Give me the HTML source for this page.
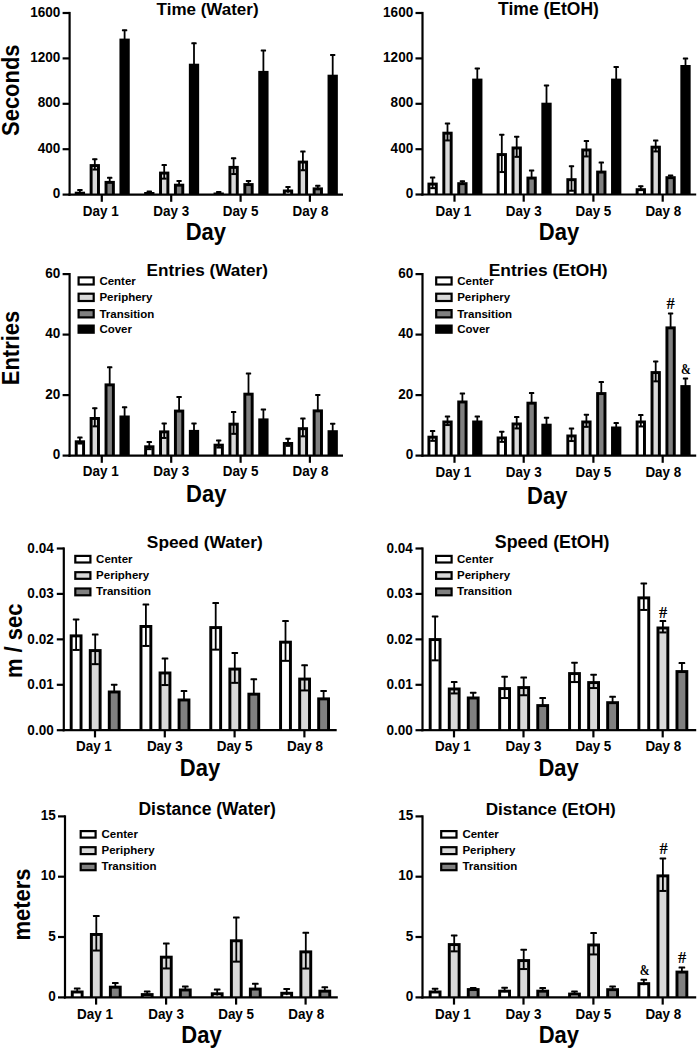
<!DOCTYPE html>
<html><head><meta charset="utf-8"><title>Figure</title>
<style>
html,body{margin:0;padding:0;background:#fff;}
body{width:699px;height:1050px;overflow:hidden;}
svg{display:block;font-family:"Liberation Sans", sans-serif;}
</style></head>
<body>
<svg width="699" height="1050" viewBox="0 0 699 1050">
<rect width="699" height="1050" fill="#fff"/>
<line x1="69.6" y1="11.9" x2="69.6" y2="195.7" stroke="#000" stroke-width="2.2"/>
<line x1="62.6" y1="13" x2="69.6" y2="13" stroke="#000" stroke-width="2.2"/>
<text x="0" y="0" font-size="14.4" text-anchor="end" font-weight="bold" transform="translate(60.3 16.6) scale(0.94 1)">1600</text>
<line x1="62.6" y1="58.4" x2="69.6" y2="58.4" stroke="#000" stroke-width="2.2"/>
<text x="0" y="0" font-size="14.4" text-anchor="end" font-weight="bold" transform="translate(60.3 62) scale(0.94 1)">1200</text>
<line x1="62.6" y1="103.8" x2="69.6" y2="103.8" stroke="#000" stroke-width="2.2"/>
<text x="0" y="0" font-size="14.4" text-anchor="end" font-weight="bold" transform="translate(60.3 107.4) scale(0.94 1)">800</text>
<line x1="62.6" y1="149.2" x2="69.6" y2="149.2" stroke="#000" stroke-width="2.2"/>
<text x="0" y="0" font-size="14.4" text-anchor="end" font-weight="bold" transform="translate(60.3 152.8) scale(0.94 1)">400</text>
<line x1="62.6" y1="194.6" x2="69.6" y2="194.6" stroke="#000" stroke-width="2.2"/>
<text x="0" y="0" font-size="14.4" text-anchor="end" font-weight="bold" transform="translate(60.3 198.2) scale(0.94 1)">0</text>
<line x1="68.5" y1="194.6" x2="343" y2="194.6" stroke="#000" stroke-width="2.2"/>
<line x1="101.8" y1="194.6" x2="101.8" y2="201.8" stroke="#000" stroke-width="2.2"/>
<text x="0" y="0" font-size="14" text-anchor="middle" font-weight="bold" transform="translate(100.7 215.8) scale(0.96 1)">Day 1</text>
<line x1="171.2" y1="194.6" x2="171.2" y2="201.8" stroke="#000" stroke-width="2.2"/>
<text x="0" y="0" font-size="14" text-anchor="middle" font-weight="bold" transform="translate(171.2 215.8) scale(0.96 1)">Day 3</text>
<line x1="240.6" y1="194.6" x2="240.6" y2="201.8" stroke="#000" stroke-width="2.2"/>
<text x="0" y="0" font-size="14" text-anchor="middle" font-weight="bold" transform="translate(240.6 215.8) scale(0.96 1)">Day 5</text>
<line x1="309.9" y1="194.6" x2="309.9" y2="201.8" stroke="#000" stroke-width="2.2"/>
<text x="0" y="0" font-size="14" text-anchor="middle" font-weight="bold" transform="translate(310.5 215.8) scale(0.96 1)">Day 8</text>
<rect x="74.75" y="191.7" width="10.3" height="2.9" fill="#000"/>
<line x1="79.9" y1="189.5" x2="79.9" y2="193.95" stroke="#000" stroke-width="1.8"/>
<rect x="77.22" y="189" width="5.36" height="2" fill="#000" rx="0.6"/>
<rect x="89.65" y="164.1" width="10.3" height="30.5" fill="#000"/>
<rect x="92.6" y="167.05" width="4.4" height="26.45" fill="#d9d9d9"/>
<line x1="94.8" y1="158.7" x2="94.8" y2="169.55" stroke="#000" stroke-width="1.8"/>
<rect x="92.12" y="158.2" width="5.36" height="2" fill="#000" rx="0.6"/>
<rect x="92.4" y="168.55" width="4.8" height="2" fill="#000"/>
<rect x="104.55" y="180.9" width="10.3" height="13.7" fill="#000"/>
<rect x="107.5" y="183.85" width="4.4" height="9.65" fill="#808080"/>
<line x1="109.7" y1="177.3" x2="109.7" y2="182.38" stroke="#000" stroke-width="1.8"/>
<rect x="107.02" y="176.8" width="5.36" height="2" fill="#000" rx="0.6"/>
<rect x="119.45" y="38.6" width="10.3" height="156" fill="#000"/>
<line x1="124.6" y1="29.8" x2="124.6" y2="40.08" stroke="#000" stroke-width="1.8"/>
<rect x="121.92" y="29.3" width="5.36" height="2" fill="#000" rx="0.6"/>
<rect x="144.15" y="192" width="10.3" height="2.6" fill="#000"/>
<line x1="149.3" y1="191" x2="149.3" y2="193.47" stroke="#000" stroke-width="1.8"/>
<rect x="146.62" y="190.5" width="5.36" height="2" fill="#000" rx="0.6"/>
<rect x="159.05" y="171.6" width="10.3" height="23" fill="#000"/>
<rect x="162" y="174.55" width="4.4" height="18.95" fill="#d9d9d9"/>
<line x1="164.2" y1="164.6" x2="164.2" y2="178.65" stroke="#000" stroke-width="1.8"/>
<rect x="161.52" y="164.1" width="5.36" height="2" fill="#000" rx="0.6"/>
<rect x="161.8" y="177.65" width="4.8" height="2" fill="#000"/>
<rect x="173.95" y="183.7" width="10.3" height="10.9" fill="#000"/>
<rect x="176.9" y="186.65" width="4.4" height="6.85" fill="#808080"/>
<line x1="179.1" y1="180.4" x2="179.1" y2="185.17" stroke="#000" stroke-width="1.8"/>
<rect x="176.42" y="179.9" width="5.36" height="2" fill="#000" rx="0.6"/>
<rect x="188.85" y="63.7" width="10.3" height="130.9" fill="#000"/>
<line x1="194" y1="42.8" x2="194" y2="65.17" stroke="#000" stroke-width="1.8"/>
<rect x="191.32" y="42.3" width="5.36" height="2" fill="#000" rx="0.6"/>
<rect x="213.55" y="192.5" width="10.3" height="2.1" fill="#000"/>
<line x1="218.7" y1="191.5" x2="218.7" y2="193.97" stroke="#000" stroke-width="1.8"/>
<rect x="216.02" y="191" width="5.36" height="2" fill="#000" rx="0.6"/>
<rect x="228.45" y="165.9" width="10.3" height="28.7" fill="#000"/>
<rect x="231.4" y="168.85" width="4.4" height="24.65" fill="#d9d9d9"/>
<line x1="233.6" y1="157.8" x2="233.6" y2="174.05" stroke="#000" stroke-width="1.8"/>
<rect x="230.92" y="157.3" width="5.36" height="2" fill="#000" rx="0.6"/>
<rect x="231.2" y="173.05" width="4.8" height="2" fill="#000"/>
<rect x="243.35" y="183.1" width="10.3" height="11.5" fill="#000"/>
<rect x="246.3" y="186.05" width="4.4" height="7.45" fill="#808080"/>
<line x1="248.5" y1="180.4" x2="248.5" y2="184.57" stroke="#000" stroke-width="1.8"/>
<rect x="245.82" y="179.9" width="5.36" height="2" fill="#000" rx="0.6"/>
<rect x="258.25" y="70.9" width="10.3" height="123.7" fill="#000"/>
<line x1="263.4" y1="50.1" x2="263.4" y2="72.38" stroke="#000" stroke-width="1.8"/>
<rect x="260.72" y="49.6" width="5.36" height="2" fill="#000" rx="0.6"/>
<rect x="282.85" y="189.5" width="10.3" height="5.1" fill="#000"/>
<rect x="285.8" y="192.45" width="4.4" height="1.05" fill="#ffffff"/>
<line x1="288" y1="186.4" x2="288" y2="192.65" stroke="#000" stroke-width="1.8"/>
<rect x="285.32" y="185.9" width="5.36" height="2" fill="#000" rx="0.6"/>
<rect x="297.75" y="160.6" width="10.3" height="34" fill="#000"/>
<rect x="300.7" y="163.55" width="4.4" height="29.95" fill="#d9d9d9"/>
<line x1="302.9" y1="151" x2="302.9" y2="170.25" stroke="#000" stroke-width="1.8"/>
<rect x="300.22" y="150.5" width="5.36" height="2" fill="#000" rx="0.6"/>
<rect x="300.5" y="169.25" width="4.8" height="2" fill="#000"/>
<rect x="312.65" y="187.4" width="10.3" height="7.2" fill="#000"/>
<rect x="315.6" y="190.35" width="4.4" height="3.15" fill="#808080"/>
<line x1="317.8" y1="185.3" x2="317.8" y2="188.88" stroke="#000" stroke-width="1.8"/>
<rect x="315.12" y="184.8" width="5.36" height="2" fill="#000" rx="0.6"/>
<rect x="327.55" y="74.7" width="10.3" height="119.9" fill="#000"/>
<line x1="332.7" y1="54.4" x2="332.7" y2="76.17" stroke="#000" stroke-width="1.8"/>
<rect x="330.02" y="53.9" width="5.36" height="2" fill="#000" rx="0.6"/>
<text x="207.6" y="15.2" font-size="17" text-anchor="middle" font-weight="bold">Time (Water)</text>
<text x="0" y="0" font-size="23.8" font-weight="bold" text-anchor="middle" transform="translate(205.9 240.3) scale(0.925 1)">Day</text>
<text x="0" y="0" font-size="23.5" font-weight="bold" text-anchor="middle" transform="translate(19.2 90.2) rotate(-90) scale(0.935 1)">Seconds</text>
<line x1="422.5" y1="11.9" x2="422.5" y2="195.6" stroke="#000" stroke-width="2.2"/>
<line x1="415.5" y1="13" x2="422.5" y2="13" stroke="#000" stroke-width="2.2"/>
<text x="0" y="0" font-size="14.4" text-anchor="end" font-weight="bold" transform="translate(413.2 16.6) scale(0.94 1)">1600</text>
<line x1="415.5" y1="58.4" x2="422.5" y2="58.4" stroke="#000" stroke-width="2.2"/>
<text x="0" y="0" font-size="14.4" text-anchor="end" font-weight="bold" transform="translate(413.2 62) scale(0.94 1)">1200</text>
<line x1="415.5" y1="103.8" x2="422.5" y2="103.8" stroke="#000" stroke-width="2.2"/>
<text x="0" y="0" font-size="14.4" text-anchor="end" font-weight="bold" transform="translate(413.2 107.4) scale(0.94 1)">800</text>
<line x1="415.5" y1="149.2" x2="422.5" y2="149.2" stroke="#000" stroke-width="2.2"/>
<text x="0" y="0" font-size="14.4" text-anchor="end" font-weight="bold" transform="translate(413.2 152.8) scale(0.94 1)">400</text>
<line x1="415.5" y1="194.5" x2="422.5" y2="194.5" stroke="#000" stroke-width="2.2"/>
<text x="0" y="0" font-size="14.4" text-anchor="end" font-weight="bold" transform="translate(413.2 198.1) scale(0.94 1)">0</text>
<line x1="421.4" y1="194.5" x2="696.2" y2="194.5" stroke="#000" stroke-width="2.2"/>
<line x1="454.5" y1="194.5" x2="454.5" y2="201.7" stroke="#000" stroke-width="2.2"/>
<text x="0" y="0" font-size="14" text-anchor="middle" font-weight="bold" transform="translate(453.4 215.8) scale(0.96 1)">Day 1</text>
<line x1="523.7" y1="194.5" x2="523.7" y2="201.7" stroke="#000" stroke-width="2.2"/>
<text x="0" y="0" font-size="14" text-anchor="middle" font-weight="bold" transform="translate(523.7 215.8) scale(0.96 1)">Day 3</text>
<line x1="593.4" y1="194.5" x2="593.4" y2="201.7" stroke="#000" stroke-width="2.2"/>
<text x="0" y="0" font-size="14" text-anchor="middle" font-weight="bold" transform="translate(593.4 215.8) scale(0.96 1)">Day 5</text>
<line x1="662.7" y1="194.5" x2="662.7" y2="201.7" stroke="#000" stroke-width="2.2"/>
<text x="0" y="0" font-size="14" text-anchor="middle" font-weight="bold" transform="translate(663.3 215.8) scale(0.96 1)">Day 8</text>
<rect x="427.45" y="182.6" width="10.3" height="11.9" fill="#000"/>
<rect x="430.4" y="185.55" width="4.4" height="7.85" fill="#ffffff"/>
<line x1="432.6" y1="177.1" x2="432.6" y2="188.15" stroke="#000" stroke-width="1.8"/>
<rect x="429.92" y="176.6" width="5.36" height="2" fill="#000" rx="0.6"/>
<rect x="430.2" y="187.15" width="4.8" height="2" fill="#000"/>
<rect x="442.35" y="131.7" width="10.3" height="62.8" fill="#000"/>
<rect x="445.3" y="134.65" width="4.4" height="58.75" fill="#d9d9d9"/>
<line x1="447.5" y1="123" x2="447.5" y2="140.45" stroke="#000" stroke-width="1.8"/>
<rect x="444.82" y="122.5" width="5.36" height="2" fill="#000" rx="0.6"/>
<rect x="445.1" y="139.45" width="4.8" height="2" fill="#000"/>
<rect x="457.25" y="182.2" width="10.3" height="12.3" fill="#000"/>
<rect x="460.2" y="185.15" width="4.4" height="8.25" fill="#808080"/>
<line x1="462.4" y1="180.7" x2="462.4" y2="183.67" stroke="#000" stroke-width="1.8"/>
<rect x="459.72" y="180.2" width="5.36" height="2" fill="#000" rx="0.6"/>
<rect x="472.15" y="78.6" width="10.3" height="115.9" fill="#000"/>
<line x1="477.3" y1="67.9" x2="477.3" y2="80.07" stroke="#000" stroke-width="1.8"/>
<rect x="474.62" y="67.4" width="5.36" height="2" fill="#000" rx="0.6"/>
<rect x="496.65" y="153.1" width="10.3" height="41.4" fill="#000"/>
<rect x="499.6" y="156.05" width="4.4" height="37.35" fill="#ffffff"/>
<line x1="501.8" y1="134.2" x2="501.8" y2="172.05" stroke="#000" stroke-width="1.8"/>
<rect x="499.12" y="133.7" width="5.36" height="2" fill="#000" rx="0.6"/>
<rect x="499.4" y="171.05" width="4.8" height="2" fill="#000"/>
<rect x="511.55" y="146.5" width="10.3" height="48" fill="#000"/>
<rect x="514.5" y="149.45" width="4.4" height="43.95" fill="#d9d9d9"/>
<line x1="516.7" y1="136.2" x2="516.7" y2="156.85" stroke="#000" stroke-width="1.8"/>
<rect x="514.02" y="135.7" width="5.36" height="2" fill="#000" rx="0.6"/>
<rect x="514.3" y="155.85" width="4.8" height="2" fill="#000"/>
<rect x="526.45" y="176.6" width="10.3" height="17.9" fill="#000"/>
<rect x="529.4" y="179.55" width="4.4" height="13.85" fill="#808080"/>
<line x1="531.6" y1="170.1" x2="531.6" y2="178.07" stroke="#000" stroke-width="1.8"/>
<rect x="528.92" y="169.6" width="5.36" height="2" fill="#000" rx="0.6"/>
<rect x="541.35" y="102.7" width="10.3" height="91.8" fill="#000"/>
<line x1="546.5" y1="84.9" x2="546.5" y2="104.17" stroke="#000" stroke-width="1.8"/>
<rect x="543.82" y="84.4" width="5.36" height="2" fill="#000" rx="0.6"/>
<rect x="566.35" y="178.2" width="10.3" height="16.3" fill="#000"/>
<rect x="569.3" y="181.15" width="4.4" height="12.25" fill="#ffffff"/>
<line x1="571.5" y1="165.7" x2="571.5" y2="190.75" stroke="#000" stroke-width="1.8"/>
<rect x="568.82" y="165.2" width="5.36" height="2" fill="#000" rx="0.6"/>
<rect x="569.1" y="189.75" width="4.8" height="2" fill="#000"/>
<rect x="581.25" y="148.5" width="10.3" height="46" fill="#000"/>
<rect x="584.2" y="151.45" width="4.4" height="41.95" fill="#d9d9d9"/>
<line x1="586.4" y1="140.6" x2="586.4" y2="156.45" stroke="#000" stroke-width="1.8"/>
<rect x="583.72" y="140.1" width="5.36" height="2" fill="#000" rx="0.6"/>
<rect x="584" y="155.45" width="4.8" height="2" fill="#000"/>
<rect x="596.15" y="170.6" width="10.3" height="23.9" fill="#000"/>
<rect x="599.1" y="173.55" width="4.4" height="19.85" fill="#808080"/>
<line x1="601.3" y1="162.1" x2="601.3" y2="172.07" stroke="#000" stroke-width="1.8"/>
<rect x="598.62" y="161.6" width="5.36" height="2" fill="#000" rx="0.6"/>
<rect x="611.05" y="78.6" width="10.3" height="115.9" fill="#000"/>
<line x1="616.2" y1="66.5" x2="616.2" y2="80.07" stroke="#000" stroke-width="1.8"/>
<rect x="613.52" y="66" width="5.36" height="2" fill="#000" rx="0.6"/>
<rect x="635.65" y="188.2" width="10.3" height="6.3" fill="#000"/>
<rect x="638.6" y="191.15" width="4.4" height="2.25" fill="#ffffff"/>
<line x1="640.8" y1="185.7" x2="640.8" y2="190.75" stroke="#000" stroke-width="1.8"/>
<rect x="638.12" y="185.2" width="5.36" height="2" fill="#000" rx="0.6"/>
<rect x="650.55" y="145.7" width="10.3" height="48.8" fill="#000"/>
<rect x="653.5" y="148.65" width="4.4" height="44.75" fill="#d9d9d9"/>
<line x1="655.7" y1="140" x2="655.7" y2="151.45" stroke="#000" stroke-width="1.8"/>
<rect x="653.02" y="139.5" width="5.36" height="2" fill="#000" rx="0.6"/>
<rect x="653.3" y="150.45" width="4.8" height="2" fill="#000"/>
<rect x="665.45" y="176.2" width="10.3" height="18.3" fill="#000"/>
<rect x="668.4" y="179.15" width="4.4" height="14.25" fill="#808080"/>
<line x1="670.6" y1="175.1" x2="670.6" y2="177.67" stroke="#000" stroke-width="1.8"/>
<rect x="667.92" y="174.6" width="5.36" height="2" fill="#000" rx="0.6"/>
<rect x="680.35" y="65" width="10.3" height="129.5" fill="#000"/>
<line x1="685.5" y1="58.1" x2="685.5" y2="66.47" stroke="#000" stroke-width="1.8"/>
<rect x="682.82" y="57.6" width="5.36" height="2" fill="#000" rx="0.6"/>
<text x="548.5" y="15.2" font-size="17.5" text-anchor="middle" font-weight="bold">Time (EtOH)</text>
<text x="0" y="0" font-size="23.8" font-weight="bold" text-anchor="middle" transform="translate(559 240.3) scale(0.925 1)">Day</text>
<line x1="69.6" y1="273" x2="69.6" y2="456.7" stroke="#000" stroke-width="2.2"/>
<line x1="62.6" y1="274.1" x2="69.6" y2="274.1" stroke="#000" stroke-width="2.2"/>
<text x="0" y="0" font-size="14.4" text-anchor="end" font-weight="bold" transform="translate(60.3 277.7) scale(0.94 1)">60</text>
<line x1="62.6" y1="334.6" x2="69.6" y2="334.6" stroke="#000" stroke-width="2.2"/>
<text x="0" y="0" font-size="14.4" text-anchor="end" font-weight="bold" transform="translate(60.3 338.2) scale(0.94 1)">40</text>
<line x1="62.6" y1="395.1" x2="69.6" y2="395.1" stroke="#000" stroke-width="2.2"/>
<text x="0" y="0" font-size="14.4" text-anchor="end" font-weight="bold" transform="translate(60.3 398.7) scale(0.94 1)">20</text>
<line x1="62.6" y1="455.6" x2="69.6" y2="455.6" stroke="#000" stroke-width="2.2"/>
<text x="0" y="0" font-size="14.4" text-anchor="end" font-weight="bold" transform="translate(60.3 459.2) scale(0.94 1)">0</text>
<line x1="68.5" y1="455.6" x2="343" y2="455.6" stroke="#000" stroke-width="2.2"/>
<line x1="101.8" y1="455.6" x2="101.8" y2="462.8" stroke="#000" stroke-width="2.2"/>
<text x="0" y="0" font-size="14" text-anchor="middle" font-weight="bold" transform="translate(100.7 476.1) scale(0.96 1)">Day 1</text>
<line x1="171.2" y1="455.6" x2="171.2" y2="462.8" stroke="#000" stroke-width="2.2"/>
<text x="0" y="0" font-size="14" text-anchor="middle" font-weight="bold" transform="translate(171.2 476.1) scale(0.96 1)">Day 3</text>
<line x1="240.6" y1="455.6" x2="240.6" y2="462.8" stroke="#000" stroke-width="2.2"/>
<text x="0" y="0" font-size="14" text-anchor="middle" font-weight="bold" transform="translate(240.6 476.1) scale(0.96 1)">Day 5</text>
<line x1="309.9" y1="455.6" x2="309.9" y2="462.8" stroke="#000" stroke-width="2.2"/>
<text x="0" y="0" font-size="14" text-anchor="middle" font-weight="bold" transform="translate(310.5 476.1) scale(0.96 1)">Day 8</text>
<rect x="74.75" y="440.3" width="10.3" height="15.3" fill="#000"/>
<rect x="77.7" y="443.25" width="4.4" height="11.25" fill="#ffffff"/>
<line x1="79.9" y1="437.1" x2="79.9" y2="443.55" stroke="#000" stroke-width="1.8"/>
<rect x="77.22" y="436.6" width="5.36" height="2" fill="#000" rx="0.6"/>
<rect x="77.5" y="442.55" width="4.8" height="2" fill="#000"/>
<rect x="89.65" y="417" width="10.3" height="38.6" fill="#000"/>
<rect x="92.6" y="419.95" width="4.4" height="34.55" fill="#d9d9d9"/>
<line x1="94.8" y1="407.7" x2="94.8" y2="426.35" stroke="#000" stroke-width="1.8"/>
<rect x="92.12" y="407.2" width="5.36" height="2" fill="#000" rx="0.6"/>
<rect x="92.4" y="425.35" width="4.8" height="2" fill="#000"/>
<rect x="104.55" y="383.4" width="10.3" height="72.2" fill="#000"/>
<rect x="107.5" y="386.35" width="4.4" height="68.15" fill="#808080"/>
<line x1="109.7" y1="366.8" x2="109.7" y2="384.88" stroke="#000" stroke-width="1.8"/>
<rect x="107.02" y="366.3" width="5.36" height="2" fill="#000" rx="0.6"/>
<rect x="119.45" y="415.5" width="10.3" height="40.1" fill="#000"/>
<line x1="124.6" y1="406.8" x2="124.6" y2="416.98" stroke="#000" stroke-width="1.8"/>
<rect x="121.92" y="406.3" width="5.36" height="2" fill="#000" rx="0.6"/>
<rect x="144.15" y="445.3" width="10.3" height="10.3" fill="#000"/>
<rect x="147.1" y="448.25" width="4.4" height="6.25" fill="#ffffff"/>
<line x1="149.3" y1="441.5" x2="149.3" y2="449.15" stroke="#000" stroke-width="1.8"/>
<rect x="146.62" y="441" width="5.36" height="2" fill="#000" rx="0.6"/>
<rect x="146.9" y="448.15" width="4.8" height="2" fill="#000"/>
<rect x="159.05" y="430.4" width="10.3" height="25.2" fill="#000"/>
<rect x="162" y="433.35" width="4.4" height="21.15" fill="#d9d9d9"/>
<line x1="164.2" y1="422.9" x2="164.2" y2="437.95" stroke="#000" stroke-width="1.8"/>
<rect x="161.52" y="422.4" width="5.36" height="2" fill="#000" rx="0.6"/>
<rect x="161.8" y="436.95" width="4.8" height="2" fill="#000"/>
<rect x="173.95" y="409.6" width="10.3" height="46" fill="#000"/>
<rect x="176.9" y="412.55" width="4.4" height="41.95" fill="#808080"/>
<line x1="179.1" y1="396.5" x2="179.1" y2="411.08" stroke="#000" stroke-width="1.8"/>
<rect x="176.42" y="396" width="5.36" height="2" fill="#000" rx="0.6"/>
<rect x="188.85" y="429.9" width="10.3" height="25.7" fill="#000"/>
<line x1="194" y1="422.9" x2="194" y2="431.38" stroke="#000" stroke-width="1.8"/>
<rect x="191.32" y="422.4" width="5.36" height="2" fill="#000" rx="0.6"/>
<rect x="213.55" y="443.7" width="10.3" height="11.9" fill="#000"/>
<rect x="216.5" y="446.65" width="4.4" height="7.85" fill="#ffffff"/>
<line x1="218.7" y1="439.9" x2="218.7" y2="447.55" stroke="#000" stroke-width="1.8"/>
<rect x="216.02" y="439.4" width="5.36" height="2" fill="#000" rx="0.6"/>
<rect x="216.3" y="446.55" width="4.8" height="2" fill="#000"/>
<rect x="228.45" y="422.7" width="10.3" height="32.9" fill="#000"/>
<rect x="231.4" y="425.65" width="4.4" height="28.85" fill="#d9d9d9"/>
<line x1="233.6" y1="411.6" x2="233.6" y2="433.85" stroke="#000" stroke-width="1.8"/>
<rect x="230.92" y="411.1" width="5.36" height="2" fill="#000" rx="0.6"/>
<rect x="231.2" y="432.85" width="4.8" height="2" fill="#000"/>
<rect x="243.35" y="392.7" width="10.3" height="62.9" fill="#000"/>
<rect x="246.3" y="395.65" width="4.4" height="58.85" fill="#808080"/>
<line x1="248.5" y1="373" x2="248.5" y2="394.18" stroke="#000" stroke-width="1.8"/>
<rect x="245.82" y="372.5" width="5.36" height="2" fill="#000" rx="0.6"/>
<rect x="258.25" y="418.4" width="10.3" height="37.2" fill="#000"/>
<line x1="263.4" y1="409" x2="263.4" y2="419.88" stroke="#000" stroke-width="1.8"/>
<rect x="260.72" y="408.5" width="5.36" height="2" fill="#000" rx="0.6"/>
<rect x="282.85" y="442" width="10.3" height="13.6" fill="#000"/>
<rect x="285.8" y="444.95" width="4.4" height="9.55" fill="#ffffff"/>
<line x1="288" y1="438.2" x2="288" y2="445.85" stroke="#000" stroke-width="1.8"/>
<rect x="285.32" y="437.7" width="5.36" height="2" fill="#000" rx="0.6"/>
<rect x="285.6" y="444.85" width="4.8" height="2" fill="#000"/>
<rect x="297.75" y="427.2" width="10.3" height="28.4" fill="#000"/>
<rect x="300.7" y="430.15" width="4.4" height="24.35" fill="#d9d9d9"/>
<line x1="302.9" y1="418.1" x2="302.9" y2="436.35" stroke="#000" stroke-width="1.8"/>
<rect x="300.22" y="417.6" width="5.36" height="2" fill="#000" rx="0.6"/>
<rect x="300.5" y="435.35" width="4.8" height="2" fill="#000"/>
<rect x="312.65" y="409.4" width="10.3" height="46.2" fill="#000"/>
<rect x="315.6" y="412.35" width="4.4" height="42.15" fill="#808080"/>
<line x1="317.8" y1="394.4" x2="317.8" y2="410.88" stroke="#000" stroke-width="1.8"/>
<rect x="315.12" y="393.9" width="5.36" height="2" fill="#000" rx="0.6"/>
<rect x="327.55" y="430.2" width="10.3" height="25.4" fill="#000"/>
<line x1="332.7" y1="423.2" x2="332.7" y2="431.68" stroke="#000" stroke-width="1.8"/>
<rect x="330.02" y="422.7" width="5.36" height="2" fill="#000" rx="0.6"/>
<text x="207.25" y="275.8" font-size="17.15" text-anchor="middle" font-weight="bold">Entries (Water)</text>
<text x="0" y="0" font-size="23.8" font-weight="bold" text-anchor="middle" transform="translate(206.2 501.5) scale(0.925 1)">Day</text>
<text x="0" y="0" font-size="23.5" font-weight="bold" text-anchor="middle" transform="translate(18.6 348) rotate(-90) scale(0.935 1)">Entries</text>
<rect x="78.6" y="277.4" width="15.1" height="7.1" fill="#ffffff" stroke="#000" stroke-width="2.2"/>
<text x="99.4" y="284.6" font-size="11.5" text-anchor="start" font-weight="bold">Center</text>
<rect x="78.6" y="293.7" width="15.1" height="7.3" fill="#d9d9d9" stroke="#000" stroke-width="2.2"/>
<text x="99.4" y="301.1" font-size="11.5" text-anchor="start" font-weight="bold">Periphery</text>
<rect x="78.6" y="310.1" width="15.1" height="7.3" fill="#808080" stroke="#000" stroke-width="2.2"/>
<text x="99.4" y="317.5" font-size="11.5" text-anchor="start" font-weight="bold">Transition</text>
<rect x="78.6" y="325.6" width="15.1" height="7.1" fill="#000000" stroke="#000" stroke-width="2.2"/>
<text x="99.4" y="332.8" font-size="11.5" text-anchor="start" font-weight="bold">Cover</text>
<line x1="422.5" y1="273" x2="422.5" y2="456.7" stroke="#000" stroke-width="2.2"/>
<line x1="415.5" y1="274.1" x2="422.5" y2="274.1" stroke="#000" stroke-width="2.2"/>
<text x="0" y="0" font-size="14.4" text-anchor="end" font-weight="bold" transform="translate(413.2 277.7) scale(0.94 1)">60</text>
<line x1="415.5" y1="334.6" x2="422.5" y2="334.6" stroke="#000" stroke-width="2.2"/>
<text x="0" y="0" font-size="14.4" text-anchor="end" font-weight="bold" transform="translate(413.2 338.2) scale(0.94 1)">40</text>
<line x1="415.5" y1="395.1" x2="422.5" y2="395.1" stroke="#000" stroke-width="2.2"/>
<text x="0" y="0" font-size="14.4" text-anchor="end" font-weight="bold" transform="translate(413.2 398.7) scale(0.94 1)">20</text>
<line x1="415.5" y1="455.6" x2="422.5" y2="455.6" stroke="#000" stroke-width="2.2"/>
<text x="0" y="0" font-size="14.4" text-anchor="end" font-weight="bold" transform="translate(413.2 459.2) scale(0.94 1)">0</text>
<line x1="421.4" y1="455.6" x2="696.2" y2="455.6" stroke="#000" stroke-width="2.2"/>
<line x1="454.5" y1="455.6" x2="454.5" y2="462.8" stroke="#000" stroke-width="2.2"/>
<text x="0" y="0" font-size="14" text-anchor="middle" font-weight="bold" transform="translate(453.4 476.8) scale(0.96 1)">Day 1</text>
<line x1="523.7" y1="455.6" x2="523.7" y2="462.8" stroke="#000" stroke-width="2.2"/>
<text x="0" y="0" font-size="14" text-anchor="middle" font-weight="bold" transform="translate(523.7 476.8) scale(0.96 1)">Day 3</text>
<line x1="593.4" y1="455.6" x2="593.4" y2="462.8" stroke="#000" stroke-width="2.2"/>
<text x="0" y="0" font-size="14" text-anchor="middle" font-weight="bold" transform="translate(593.4 476.8) scale(0.96 1)">Day 5</text>
<line x1="662.7" y1="455.6" x2="662.7" y2="462.8" stroke="#000" stroke-width="2.2"/>
<text x="0" y="0" font-size="14" text-anchor="middle" font-weight="bold" transform="translate(663.3 476.8) scale(0.96 1)">Day 8</text>
<rect x="427.45" y="435.7" width="10.3" height="19.9" fill="#000"/>
<rect x="430.4" y="438.65" width="4.4" height="15.85" fill="#ffffff"/>
<line x1="432.6" y1="430.6" x2="432.6" y2="440.85" stroke="#000" stroke-width="1.8"/>
<rect x="429.92" y="430.1" width="5.36" height="2" fill="#000" rx="0.6"/>
<rect x="430.2" y="439.85" width="4.8" height="2" fill="#000"/>
<rect x="442.35" y="420.5" width="10.3" height="35.1" fill="#000"/>
<rect x="445.3" y="423.45" width="4.4" height="31.05" fill="#d9d9d9"/>
<line x1="447.5" y1="416" x2="447.5" y2="425.05" stroke="#000" stroke-width="1.8"/>
<rect x="444.82" y="415.5" width="5.36" height="2" fill="#000" rx="0.6"/>
<rect x="445.1" y="424.05" width="4.8" height="2" fill="#000"/>
<rect x="457.25" y="400.5" width="10.3" height="55.1" fill="#000"/>
<rect x="460.2" y="403.45" width="4.4" height="51.05" fill="#808080"/>
<line x1="462.4" y1="393" x2="462.4" y2="401.98" stroke="#000" stroke-width="1.8"/>
<rect x="459.72" y="392.5" width="5.36" height="2" fill="#000" rx="0.6"/>
<rect x="472.15" y="420.5" width="10.3" height="35.1" fill="#000"/>
<line x1="477.3" y1="416" x2="477.3" y2="421.98" stroke="#000" stroke-width="1.8"/>
<rect x="474.62" y="415.5" width="5.36" height="2" fill="#000" rx="0.6"/>
<rect x="496.65" y="436.5" width="10.3" height="19.1" fill="#000"/>
<rect x="499.6" y="439.45" width="4.4" height="15.05" fill="#ffffff"/>
<line x1="501.8" y1="431.2" x2="501.8" y2="441.85" stroke="#000" stroke-width="1.8"/>
<rect x="499.12" y="430.7" width="5.36" height="2" fill="#000" rx="0.6"/>
<rect x="499.4" y="440.85" width="4.8" height="2" fill="#000"/>
<rect x="511.55" y="422.5" width="10.3" height="33.1" fill="#000"/>
<rect x="514.5" y="425.45" width="4.4" height="29.05" fill="#d9d9d9"/>
<line x1="516.7" y1="416.6" x2="516.7" y2="428.45" stroke="#000" stroke-width="1.8"/>
<rect x="514.02" y="416.1" width="5.36" height="2" fill="#000" rx="0.6"/>
<rect x="514.3" y="427.45" width="4.8" height="2" fill="#000"/>
<rect x="526.45" y="401.7" width="10.3" height="53.9" fill="#000"/>
<rect x="529.4" y="404.65" width="4.4" height="49.85" fill="#808080"/>
<line x1="531.6" y1="392.6" x2="531.6" y2="403.18" stroke="#000" stroke-width="1.8"/>
<rect x="528.92" y="392.1" width="5.36" height="2" fill="#000" rx="0.6"/>
<rect x="541.35" y="423.7" width="10.3" height="31.9" fill="#000"/>
<line x1="546.5" y1="417.2" x2="546.5" y2="425.18" stroke="#000" stroke-width="1.8"/>
<rect x="543.82" y="416.7" width="5.36" height="2" fill="#000" rx="0.6"/>
<rect x="566.35" y="434.5" width="10.3" height="21.1" fill="#000"/>
<rect x="569.3" y="437.45" width="4.4" height="17.05" fill="#ffffff"/>
<line x1="571.5" y1="428" x2="571.5" y2="441.05" stroke="#000" stroke-width="1.8"/>
<rect x="568.82" y="427.5" width="5.36" height="2" fill="#000" rx="0.6"/>
<rect x="569.1" y="440.05" width="4.8" height="2" fill="#000"/>
<rect x="581.25" y="420.5" width="10.3" height="35.1" fill="#000"/>
<rect x="584.2" y="423.45" width="4.4" height="31.05" fill="#d9d9d9"/>
<line x1="586.4" y1="414.2" x2="586.4" y2="426.85" stroke="#000" stroke-width="1.8"/>
<rect x="583.72" y="413.7" width="5.36" height="2" fill="#000" rx="0.6"/>
<rect x="584" y="425.85" width="4.8" height="2" fill="#000"/>
<rect x="596.15" y="392.1" width="10.3" height="63.5" fill="#000"/>
<rect x="599.1" y="395.05" width="4.4" height="59.45" fill="#808080"/>
<line x1="601.3" y1="381.6" x2="601.3" y2="393.58" stroke="#000" stroke-width="1.8"/>
<rect x="598.62" y="381.1" width="5.36" height="2" fill="#000" rx="0.6"/>
<rect x="611.05" y="426.5" width="10.3" height="29.1" fill="#000"/>
<line x1="616.2" y1="422.6" x2="616.2" y2="427.98" stroke="#000" stroke-width="1.8"/>
<rect x="613.52" y="422.1" width="5.36" height="2" fill="#000" rx="0.6"/>
<rect x="635.65" y="420.5" width="10.3" height="35.1" fill="#000"/>
<rect x="638.6" y="423.45" width="4.4" height="31.05" fill="#ffffff"/>
<line x1="640.8" y1="414.6" x2="640.8" y2="426.45" stroke="#000" stroke-width="1.8"/>
<rect x="638.12" y="414.1" width="5.36" height="2" fill="#000" rx="0.6"/>
<rect x="638.4" y="425.45" width="4.8" height="2" fill="#000"/>
<rect x="650.55" y="371.1" width="10.3" height="84.5" fill="#000"/>
<rect x="653.5" y="374.05" width="4.4" height="80.45" fill="#d9d9d9"/>
<line x1="655.7" y1="360.9" x2="655.7" y2="381.35" stroke="#000" stroke-width="1.8"/>
<rect x="653.02" y="360.4" width="5.36" height="2" fill="#000" rx="0.6"/>
<rect x="653.3" y="380.35" width="4.8" height="2" fill="#000"/>
<rect x="665.45" y="326.4" width="10.3" height="129.2" fill="#000"/>
<rect x="668.4" y="329.35" width="4.4" height="125.15" fill="#808080"/>
<line x1="670.6" y1="312.9" x2="670.6" y2="327.88" stroke="#000" stroke-width="1.8"/>
<rect x="667.92" y="312.4" width="5.36" height="2" fill="#000" rx="0.6"/>
<rect x="680.35" y="385.1" width="10.3" height="70.5" fill="#000"/>
<line x1="685.5" y1="378" x2="685.5" y2="386.58" stroke="#000" stroke-width="1.8"/>
<rect x="682.82" y="377.5" width="5.36" height="2" fill="#000" rx="0.6"/>
<text x="548.15" y="275.8" font-size="17.4" text-anchor="middle" font-weight="bold">Entries (EtOH)</text>
<text x="0" y="0" font-size="23.8" font-weight="bold" text-anchor="middle" transform="translate(547.2 503.9) scale(0.925 1)">Day</text>
<rect x="436.2" y="277.4" width="15.4" height="7.1" fill="#ffffff" stroke="#000" stroke-width="2.2"/>
<text x="457.2" y="284.6" font-size="11.5" text-anchor="start" font-weight="bold">Center</text>
<rect x="436.2" y="293.7" width="15.4" height="7.3" fill="#d9d9d9" stroke="#000" stroke-width="2.2"/>
<text x="457.2" y="301.1" font-size="11.5" text-anchor="start" font-weight="bold">Periphery</text>
<rect x="436.2" y="310.1" width="15.4" height="7.3" fill="#808080" stroke="#000" stroke-width="2.2"/>
<text x="457.2" y="317.5" font-size="11.5" text-anchor="start" font-weight="bold">Transition</text>
<rect x="436.2" y="325.6" width="15.4" height="7.1" fill="#000000" stroke="#000" stroke-width="2.2"/>
<text x="457.2" y="332.8" font-size="11.5" text-anchor="start" font-weight="bold">Cover</text>
<text x="0" y="0" font-size="16.5" text-anchor="middle" font-weight="bold" font-family='"Liberation Serif", serif' transform="translate(670.6 309.1) scale(1 1)">#</text>
<text x="0" y="0" font-size="14.5" text-anchor="middle" font-weight="bold" font-family='"Liberation Serif", serif' transform="translate(685.9 374.3) scale(0.82 1)">&amp;</text>
<line x1="63.8" y1="547.4" x2="63.8" y2="731.3" stroke="#000" stroke-width="2.2"/>
<line x1="56.8" y1="548.5" x2="63.8" y2="548.5" stroke="#000" stroke-width="2.2"/>
<text x="0" y="0" font-size="14.4" text-anchor="end" font-weight="bold" transform="translate(53.7 553) scale(0.94 1)">0.04</text>
<line x1="56.8" y1="593.9" x2="63.8" y2="593.9" stroke="#000" stroke-width="2.2"/>
<text x="0" y="0" font-size="14.4" text-anchor="end" font-weight="bold" transform="translate(53.7 598.4) scale(0.94 1)">0.03</text>
<line x1="56.8" y1="639.35" x2="63.8" y2="639.35" stroke="#000" stroke-width="2.2"/>
<text x="0" y="0" font-size="14.4" text-anchor="end" font-weight="bold" transform="translate(53.7 643.85) scale(0.94 1)">0.02</text>
<line x1="56.8" y1="684.8" x2="63.8" y2="684.8" stroke="#000" stroke-width="2.2"/>
<text x="0" y="0" font-size="14.4" text-anchor="end" font-weight="bold" transform="translate(53.7 689.3) scale(0.94 1)">0.01</text>
<line x1="56.8" y1="730.2" x2="63.8" y2="730.2" stroke="#000" stroke-width="2.2"/>
<text x="0" y="0" font-size="14.4" text-anchor="end" font-weight="bold" transform="translate(53.7 734.7) scale(0.94 1)">0.00</text>
<line x1="62.7" y1="730.2" x2="336.7" y2="730.2" stroke="#000" stroke-width="2.2"/>
<line x1="95" y1="730.2" x2="95" y2="737.4" stroke="#000" stroke-width="2.2"/>
<text x="0" y="0" font-size="14" text-anchor="middle" font-weight="bold" transform="translate(93.9 751.3) scale(0.96 1)">Day 1</text>
<line x1="164.8" y1="730.2" x2="164.8" y2="737.4" stroke="#000" stroke-width="2.2"/>
<text x="0" y="0" font-size="14" text-anchor="middle" font-weight="bold" transform="translate(164.8 751.3) scale(0.96 1)">Day 3</text>
<line x1="234.6" y1="730.2" x2="234.6" y2="737.4" stroke="#000" stroke-width="2.2"/>
<text x="0" y="0" font-size="14" text-anchor="middle" font-weight="bold" transform="translate(234.6 751.3) scale(0.96 1)">Day 5</text>
<line x1="304.4" y1="730.2" x2="304.4" y2="737.4" stroke="#000" stroke-width="2.2"/>
<text x="0" y="0" font-size="14" text-anchor="middle" font-weight="bold" transform="translate(305 751.3) scale(0.96 1)">Day 8</text>
<rect x="69.7" y="634.4" width="12.8" height="95.8" fill="#000"/>
<rect x="72.65" y="637.35" width="6.9" height="91.75" fill="#ffffff"/>
<line x1="76.1" y1="618.9" x2="76.1" y2="649.95" stroke="#000" stroke-width="1.8"/>
<rect x="72.77" y="618.4" width="6.66" height="2" fill="#000" rx="0.6"/>
<rect x="72.45" y="648.95" width="7.3" height="2" fill="#000"/>
<rect x="88.8" y="649.1" width="12.8" height="81.1" fill="#000"/>
<rect x="91.75" y="652.05" width="6.9" height="77.05" fill="#d9d9d9"/>
<line x1="95.2" y1="634.1" x2="95.2" y2="664.15" stroke="#000" stroke-width="1.8"/>
<rect x="91.87" y="633.6" width="6.66" height="2" fill="#000" rx="0.6"/>
<rect x="91.55" y="663.15" width="7.3" height="2" fill="#000"/>
<rect x="107.8" y="690.5" width="12.8" height="39.7" fill="#000"/>
<rect x="110.75" y="693.45" width="6.9" height="35.65" fill="#808080"/>
<line x1="114.2" y1="684.2" x2="114.2" y2="691.98" stroke="#000" stroke-width="1.8"/>
<rect x="110.87" y="683.7" width="6.66" height="2" fill="#000" rx="0.6"/>
<rect x="139.5" y="625" width="12.8" height="105.2" fill="#000"/>
<rect x="142.45" y="627.95" width="6.9" height="101.15" fill="#ffffff"/>
<line x1="145.9" y1="604.1" x2="145.9" y2="645.95" stroke="#000" stroke-width="1.8"/>
<rect x="142.57" y="603.6" width="6.66" height="2" fill="#000" rx="0.6"/>
<rect x="142.25" y="644.95" width="7.3" height="2" fill="#000"/>
<rect x="158.6" y="671.5" width="12.8" height="58.7" fill="#000"/>
<rect x="161.55" y="674.45" width="6.9" height="54.65" fill="#d9d9d9"/>
<line x1="165" y1="658" x2="165" y2="685.05" stroke="#000" stroke-width="1.8"/>
<rect x="161.67" y="657.5" width="6.66" height="2" fill="#000" rx="0.6"/>
<rect x="161.35" y="684.05" width="7.3" height="2" fill="#000"/>
<rect x="177.6" y="698.5" width="12.8" height="31.7" fill="#000"/>
<rect x="180.55" y="701.45" width="6.9" height="27.65" fill="#808080"/>
<line x1="184" y1="690.6" x2="184" y2="699.98" stroke="#000" stroke-width="1.8"/>
<rect x="180.67" y="690.1" width="6.66" height="2" fill="#000" rx="0.6"/>
<rect x="209.3" y="626.1" width="12.8" height="104.1" fill="#000"/>
<rect x="212.25" y="629.05" width="6.9" height="100.05" fill="#ffffff"/>
<line x1="215.7" y1="602.6" x2="215.7" y2="649.65" stroke="#000" stroke-width="1.8"/>
<rect x="212.37" y="602.1" width="6.66" height="2" fill="#000" rx="0.6"/>
<rect x="212.05" y="648.65" width="7.3" height="2" fill="#000"/>
<rect x="228.4" y="667.6" width="12.8" height="62.6" fill="#000"/>
<rect x="231.35" y="670.55" width="6.9" height="58.55" fill="#d9d9d9"/>
<line x1="234.8" y1="652.4" x2="234.8" y2="682.85" stroke="#000" stroke-width="1.8"/>
<rect x="231.47" y="651.9" width="6.66" height="2" fill="#000" rx="0.6"/>
<rect x="231.15" y="681.85" width="7.3" height="2" fill="#000"/>
<rect x="247.4" y="692.7" width="12.8" height="37.5" fill="#000"/>
<rect x="250.35" y="695.65" width="6.9" height="33.45" fill="#808080"/>
<line x1="253.8" y1="678.8" x2="253.8" y2="694.18" stroke="#000" stroke-width="1.8"/>
<rect x="250.47" y="678.3" width="6.66" height="2" fill="#000" rx="0.6"/>
<rect x="279.1" y="640.7" width="12.8" height="89.5" fill="#000"/>
<rect x="282.05" y="643.65" width="6.9" height="85.45" fill="#ffffff"/>
<line x1="285.5" y1="620.6" x2="285.5" y2="660.85" stroke="#000" stroke-width="1.8"/>
<rect x="282.17" y="620.1" width="6.66" height="2" fill="#000" rx="0.6"/>
<rect x="281.85" y="659.85" width="7.3" height="2" fill="#000"/>
<rect x="298.2" y="677.6" width="12.8" height="52.6" fill="#000"/>
<rect x="301.15" y="680.55" width="6.9" height="48.55" fill="#d9d9d9"/>
<line x1="304.6" y1="664.8" x2="304.6" y2="690.45" stroke="#000" stroke-width="1.8"/>
<rect x="301.27" y="664.3" width="6.66" height="2" fill="#000" rx="0.6"/>
<rect x="300.95" y="689.45" width="7.3" height="2" fill="#000"/>
<rect x="317.2" y="697.4" width="12.8" height="32.8" fill="#000"/>
<rect x="320.15" y="700.35" width="6.9" height="28.75" fill="#808080"/>
<line x1="323.6" y1="690.4" x2="323.6" y2="698.88" stroke="#000" stroke-width="1.8"/>
<rect x="320.27" y="689.9" width="6.66" height="2" fill="#000" rx="0.6"/>
<text x="204.8" y="547.5" font-size="17.35" text-anchor="middle" font-weight="bold">Speed (Water)</text>
<text x="0" y="0" font-size="23.8" font-weight="bold" text-anchor="middle" transform="translate(200 776.1) scale(0.925 1)">Day</text>
<text x="0" y="0" font-size="23.5" font-weight="bold" text-anchor="middle" transform="translate(22 640.8) rotate(-90) scale(0.935 1)">m / sec</text>
<rect x="75.3" y="555.9" width="15.1" height="6.6" fill="#ffffff" stroke="#000" stroke-width="2.2"/>
<text x="96.1" y="562.6" font-size="11.5" text-anchor="start" font-weight="bold">Center</text>
<rect x="75.3" y="572.2" width="15.1" height="6.6" fill="#d9d9d9" stroke="#000" stroke-width="2.2"/>
<text x="96.1" y="578.9" font-size="11.5" text-anchor="start" font-weight="bold">Periphery</text>
<rect x="75.3" y="588.5" width="15.1" height="6.8" fill="#808080" stroke="#000" stroke-width="2.2"/>
<text x="96.1" y="595.4" font-size="11.5" text-anchor="start" font-weight="bold">Transition</text>
<line x1="422.5" y1="547.4" x2="422.5" y2="731.3" stroke="#000" stroke-width="2.2"/>
<line x1="415.5" y1="548.5" x2="422.5" y2="548.5" stroke="#000" stroke-width="2.2"/>
<text x="0" y="0" font-size="14.4" text-anchor="end" font-weight="bold" transform="translate(412.8 553) scale(0.94 1)">0.04</text>
<line x1="415.5" y1="593.9" x2="422.5" y2="593.9" stroke="#000" stroke-width="2.2"/>
<text x="0" y="0" font-size="14.4" text-anchor="end" font-weight="bold" transform="translate(412.8 598.4) scale(0.94 1)">0.03</text>
<line x1="415.5" y1="639.35" x2="422.5" y2="639.35" stroke="#000" stroke-width="2.2"/>
<text x="0" y="0" font-size="14.4" text-anchor="end" font-weight="bold" transform="translate(412.8 643.85) scale(0.94 1)">0.02</text>
<line x1="415.5" y1="684.8" x2="422.5" y2="684.8" stroke="#000" stroke-width="2.2"/>
<text x="0" y="0" font-size="14.4" text-anchor="end" font-weight="bold" transform="translate(412.8 689.3) scale(0.94 1)">0.01</text>
<line x1="415.5" y1="730.2" x2="422.5" y2="730.2" stroke="#000" stroke-width="2.2"/>
<text x="0" y="0" font-size="14.4" text-anchor="end" font-weight="bold" transform="translate(412.8 734.7) scale(0.94 1)">0.00</text>
<line x1="421.4" y1="730.2" x2="696.2" y2="730.2" stroke="#000" stroke-width="2.2"/>
<line x1="454" y1="730.2" x2="454" y2="737.4" stroke="#000" stroke-width="2.2"/>
<text x="0" y="0" font-size="14" text-anchor="middle" font-weight="bold" transform="translate(452.9 751.3) scale(0.96 1)">Day 1</text>
<line x1="523.5" y1="730.2" x2="523.5" y2="737.4" stroke="#000" stroke-width="2.2"/>
<text x="0" y="0" font-size="14" text-anchor="middle" font-weight="bold" transform="translate(523.5 751.3) scale(0.96 1)">Day 3</text>
<line x1="593.4" y1="730.2" x2="593.4" y2="737.4" stroke="#000" stroke-width="2.2"/>
<text x="0" y="0" font-size="14" text-anchor="middle" font-weight="bold" transform="translate(593.4 751.3) scale(0.96 1)">Day 5</text>
<line x1="662.7" y1="730.2" x2="662.7" y2="737.4" stroke="#000" stroke-width="2.2"/>
<text x="0" y="0" font-size="14" text-anchor="middle" font-weight="bold" transform="translate(663.3 751.3) scale(0.96 1)">Day 8</text>
<rect x="428.7" y="638.1" width="12.8" height="92.1" fill="#000"/>
<rect x="431.65" y="641.05" width="6.9" height="88.05" fill="#ffffff"/>
<line x1="435.1" y1="615.9" x2="435.1" y2="660.35" stroke="#000" stroke-width="1.8"/>
<rect x="431.77" y="615.4" width="6.66" height="2" fill="#000" rx="0.6"/>
<rect x="431.45" y="659.35" width="7.3" height="2" fill="#000"/>
<rect x="447.8" y="687.5" width="12.8" height="42.7" fill="#000"/>
<rect x="450.75" y="690.45" width="6.9" height="38.65" fill="#d9d9d9"/>
<line x1="454.2" y1="681.6" x2="454.2" y2="693.45" stroke="#000" stroke-width="1.8"/>
<rect x="450.87" y="681.1" width="6.66" height="2" fill="#000" rx="0.6"/>
<rect x="450.55" y="692.45" width="7.3" height="2" fill="#000"/>
<rect x="466.8" y="696.5" width="12.8" height="33.7" fill="#000"/>
<rect x="469.75" y="699.45" width="6.9" height="29.65" fill="#808080"/>
<line x1="473.2" y1="692.2" x2="473.2" y2="697.98" stroke="#000" stroke-width="1.8"/>
<rect x="469.87" y="691.7" width="6.66" height="2" fill="#000" rx="0.6"/>
<rect x="498.2" y="687.1" width="12.8" height="43.1" fill="#000"/>
<rect x="501.15" y="690.05" width="6.9" height="39.05" fill="#ffffff"/>
<line x1="504.6" y1="676.2" x2="504.6" y2="698.05" stroke="#000" stroke-width="1.8"/>
<rect x="501.27" y="675.7" width="6.66" height="2" fill="#000" rx="0.6"/>
<rect x="500.95" y="697.05" width="7.3" height="2" fill="#000"/>
<rect x="517.3" y="686.1" width="12.8" height="44.1" fill="#000"/>
<rect x="520.25" y="689.05" width="6.9" height="40.05" fill="#d9d9d9"/>
<line x1="523.7" y1="677" x2="523.7" y2="695.25" stroke="#000" stroke-width="1.8"/>
<rect x="520.37" y="676.5" width="6.66" height="2" fill="#000" rx="0.6"/>
<rect x="520.05" y="694.25" width="7.3" height="2" fill="#000"/>
<rect x="536.3" y="704.1" width="12.8" height="26.1" fill="#000"/>
<rect x="539.25" y="707.05" width="6.9" height="22.05" fill="#808080"/>
<line x1="542.7" y1="697.6" x2="542.7" y2="705.58" stroke="#000" stroke-width="1.8"/>
<rect x="539.37" y="697.1" width="6.66" height="2" fill="#000" rx="0.6"/>
<rect x="568.1" y="672.1" width="12.8" height="58.1" fill="#000"/>
<rect x="571.05" y="675.05" width="6.9" height="54.05" fill="#ffffff"/>
<line x1="574.5" y1="662.2" x2="574.5" y2="682.05" stroke="#000" stroke-width="1.8"/>
<rect x="571.17" y="661.7" width="6.66" height="2" fill="#000" rx="0.6"/>
<rect x="570.85" y="681.05" width="7.3" height="2" fill="#000"/>
<rect x="587.2" y="681.1" width="12.8" height="49.1" fill="#000"/>
<rect x="590.15" y="684.05" width="6.9" height="45.05" fill="#d9d9d9"/>
<line x1="593.6" y1="674.2" x2="593.6" y2="688.05" stroke="#000" stroke-width="1.8"/>
<rect x="590.27" y="673.7" width="6.66" height="2" fill="#000" rx="0.6"/>
<rect x="589.95" y="687.05" width="7.3" height="2" fill="#000"/>
<rect x="606.2" y="701.2" width="12.8" height="29" fill="#000"/>
<rect x="609.15" y="704.15" width="6.9" height="24.95" fill="#808080"/>
<line x1="612.6" y1="696.3" x2="612.6" y2="702.68" stroke="#000" stroke-width="1.8"/>
<rect x="609.27" y="695.8" width="6.66" height="2" fill="#000" rx="0.6"/>
<rect x="637.4" y="596.4" width="12.8" height="133.8" fill="#000"/>
<rect x="640.35" y="599.35" width="6.9" height="129.75" fill="#ffffff"/>
<line x1="643.8" y1="582.9" x2="643.8" y2="609.95" stroke="#000" stroke-width="1.8"/>
<rect x="640.47" y="582.4" width="6.66" height="2" fill="#000" rx="0.6"/>
<rect x="640.15" y="608.95" width="7.3" height="2" fill="#000"/>
<rect x="656.5" y="626.5" width="12.8" height="103.7" fill="#000"/>
<rect x="659.45" y="629.45" width="6.9" height="99.65" fill="#d9d9d9"/>
<line x1="662.9" y1="620.6" x2="662.9" y2="632.45" stroke="#000" stroke-width="1.8"/>
<rect x="659.57" y="620.1" width="6.66" height="2" fill="#000" rx="0.6"/>
<rect x="659.25" y="631.45" width="7.3" height="2" fill="#000"/>
<rect x="675.5" y="670.1" width="12.8" height="60.1" fill="#000"/>
<rect x="678.45" y="673.05" width="6.9" height="56.05" fill="#808080"/>
<line x1="681.9" y1="662.6" x2="681.9" y2="671.58" stroke="#000" stroke-width="1.8"/>
<rect x="678.57" y="662.1" width="6.66" height="2" fill="#000" rx="0.6"/>
<text x="552.15" y="547.5" font-size="17.8" text-anchor="middle" font-weight="bold">Speed (EtOH)</text>
<text x="0" y="0" font-size="23.8" font-weight="bold" text-anchor="middle" transform="translate(558.6 776.1) scale(0.925 1)">Day</text>
<rect x="436.1" y="555.9" width="15.5" height="6.6" fill="#ffffff" stroke="#000" stroke-width="2.2"/>
<text x="457" y="562.6" font-size="11.5" text-anchor="start" font-weight="bold">Center</text>
<rect x="436.1" y="572.2" width="15.5" height="6.6" fill="#d9d9d9" stroke="#000" stroke-width="2.2"/>
<text x="457" y="578.9" font-size="11.5" text-anchor="start" font-weight="bold">Periphery</text>
<rect x="436.1" y="588.5" width="15.5" height="6.8" fill="#808080" stroke="#000" stroke-width="2.2"/>
<text x="457" y="595.4" font-size="11.5" text-anchor="start" font-weight="bold">Transition</text>
<text x="0" y="0" font-size="16.5" text-anchor="middle" font-weight="bold" font-family='"Liberation Serif", serif' transform="translate(663.15 618.4) scale(1 1)">#</text>
<line x1="65" y1="815.3" x2="65" y2="998.5" stroke="#000" stroke-width="2.2"/>
<line x1="58" y1="816.4" x2="65" y2="816.4" stroke="#000" stroke-width="2.2"/>
<text x="0" y="0" font-size="14.4" text-anchor="end" font-weight="bold" transform="translate(55.7 820) scale(0.94 1)">15</text>
<line x1="58" y1="876.7" x2="65" y2="876.7" stroke="#000" stroke-width="2.2"/>
<text x="0" y="0" font-size="14.4" text-anchor="end" font-weight="bold" transform="translate(55.7 880.3) scale(0.94 1)">10</text>
<line x1="58" y1="937" x2="65" y2="937" stroke="#000" stroke-width="2.2"/>
<text x="0" y="0" font-size="14.4" text-anchor="end" font-weight="bold" transform="translate(55.7 940.6) scale(0.94 1)">5</text>
<line x1="58" y1="997.4" x2="65" y2="997.4" stroke="#000" stroke-width="2.2"/>
<text x="0" y="0" font-size="14.4" text-anchor="end" font-weight="bold" transform="translate(55.7 1001) scale(0.94 1)">0</text>
<line x1="63.9" y1="997.4" x2="337.8" y2="997.4" stroke="#000" stroke-width="2.2"/>
<line x1="96.1" y1="997.4" x2="96.1" y2="1004.6" stroke="#000" stroke-width="2.2"/>
<text x="0" y="0" font-size="14" text-anchor="middle" font-weight="bold" transform="translate(95 1019.2) scale(0.96 1)">Day 1</text>
<line x1="166.1" y1="997.4" x2="166.1" y2="1004.6" stroke="#000" stroke-width="2.2"/>
<text x="0" y="0" font-size="14" text-anchor="middle" font-weight="bold" transform="translate(166.1 1019.2) scale(0.96 1)">Day 3</text>
<line x1="236.1" y1="997.4" x2="236.1" y2="1004.6" stroke="#000" stroke-width="2.2"/>
<text x="0" y="0" font-size="14" text-anchor="middle" font-weight="bold" transform="translate(236.1 1019.2) scale(0.96 1)">Day 5</text>
<line x1="305.6" y1="997.4" x2="305.6" y2="1004.6" stroke="#000" stroke-width="2.2"/>
<text x="0" y="0" font-size="14" text-anchor="middle" font-weight="bold" transform="translate(306.2 1019.2) scale(0.96 1)">Day 8</text>
<rect x="70.8" y="990.5" width="12.8" height="6.9" fill="#000"/>
<rect x="73.75" y="993.45" width="6.9" height="2.85" fill="#ffffff"/>
<line x1="77.2" y1="988" x2="77.2" y2="993.05" stroke="#000" stroke-width="1.8"/>
<rect x="73.87" y="987.5" width="6.66" height="2" fill="#000" rx="0.6"/>
<rect x="89.9" y="933" width="12.8" height="64.4" fill="#000"/>
<rect x="92.85" y="935.95" width="6.9" height="60.35" fill="#d9d9d9"/>
<line x1="96.3" y1="915.5" x2="96.3" y2="950.55" stroke="#000" stroke-width="1.8"/>
<rect x="92.97" y="915" width="6.66" height="2" fill="#000" rx="0.6"/>
<rect x="92.65" y="949.55" width="7.3" height="2" fill="#000"/>
<rect x="108.9" y="985.7" width="12.8" height="11.7" fill="#000"/>
<rect x="111.85" y="988.65" width="6.9" height="7.65" fill="#808080"/>
<line x1="115.3" y1="982.6" x2="115.3" y2="987.18" stroke="#000" stroke-width="1.8"/>
<rect x="111.97" y="982.1" width="6.66" height="2" fill="#000" rx="0.6"/>
<rect x="140.8" y="993.1" width="12.8" height="4.3" fill="#000"/>
<rect x="143.75" y="996.05" width="6.9" height="0.25" fill="#ffffff"/>
<line x1="147.2" y1="991" x2="147.2" y2="995.25" stroke="#000" stroke-width="1.8"/>
<rect x="143.87" y="990.5" width="6.66" height="2" fill="#000" rx="0.6"/>
<rect x="159.9" y="955.7" width="12.8" height="41.7" fill="#000"/>
<rect x="162.85" y="958.65" width="6.9" height="37.65" fill="#d9d9d9"/>
<line x1="166.3" y1="943" x2="166.3" y2="968.45" stroke="#000" stroke-width="1.8"/>
<rect x="162.97" y="942.5" width="6.66" height="2" fill="#000" rx="0.6"/>
<rect x="162.65" y="967.45" width="7.3" height="2" fill="#000"/>
<rect x="178.9" y="988.5" width="12.8" height="8.9" fill="#000"/>
<rect x="181.85" y="991.45" width="6.9" height="4.85" fill="#808080"/>
<line x1="185.3" y1="986" x2="185.3" y2="989.98" stroke="#000" stroke-width="1.8"/>
<rect x="181.97" y="985.5" width="6.66" height="2" fill="#000" rx="0.6"/>
<rect x="210.8" y="992.3" width="12.8" height="5.1" fill="#000"/>
<rect x="213.75" y="995.25" width="6.9" height="1.05" fill="#ffffff"/>
<line x1="217.2" y1="989.1" x2="217.2" y2="995.55" stroke="#000" stroke-width="1.8"/>
<rect x="213.87" y="988.6" width="6.66" height="2" fill="#000" rx="0.6"/>
<rect x="229.9" y="939.3" width="12.8" height="58.1" fill="#000"/>
<rect x="232.85" y="942.25" width="6.9" height="54.05" fill="#d9d9d9"/>
<line x1="236.3" y1="917" x2="236.3" y2="961.65" stroke="#000" stroke-width="1.8"/>
<rect x="232.97" y="916.5" width="6.66" height="2" fill="#000" rx="0.6"/>
<rect x="232.65" y="960.65" width="7.3" height="2" fill="#000"/>
<rect x="248.9" y="987.6" width="12.8" height="9.8" fill="#000"/>
<rect x="251.85" y="990.55" width="6.9" height="5.75" fill="#808080"/>
<line x1="255.3" y1="983.3" x2="255.3" y2="989.08" stroke="#000" stroke-width="1.8"/>
<rect x="251.97" y="982.8" width="6.66" height="2" fill="#000" rx="0.6"/>
<rect x="280.3" y="991.8" width="12.8" height="5.6" fill="#000"/>
<rect x="283.25" y="994.75" width="6.9" height="1.55" fill="#ffffff"/>
<line x1="286.7" y1="988.5" x2="286.7" y2="995.15" stroke="#000" stroke-width="1.8"/>
<rect x="283.37" y="988" width="6.66" height="2" fill="#000" rx="0.6"/>
<rect x="299.4" y="950.4" width="12.8" height="47" fill="#000"/>
<rect x="302.35" y="953.35" width="6.9" height="42.95" fill="#d9d9d9"/>
<line x1="305.8" y1="932.3" x2="305.8" y2="968.55" stroke="#000" stroke-width="1.8"/>
<rect x="302.47" y="931.8" width="6.66" height="2" fill="#000" rx="0.6"/>
<rect x="302.15" y="967.55" width="7.3" height="2" fill="#000"/>
<rect x="318.4" y="989.7" width="12.8" height="7.7" fill="#000"/>
<rect x="321.35" y="992.65" width="6.9" height="3.65" fill="#808080"/>
<line x1="324.8" y1="986.8" x2="324.8" y2="991.18" stroke="#000" stroke-width="1.8"/>
<rect x="321.47" y="986.3" width="6.66" height="2" fill="#000" rx="0.6"/>
<text x="207.15" y="814.5" font-size="17.5" text-anchor="middle" font-weight="bold">Distance (Water)</text>
<text x="0" y="0" font-size="23.8" font-weight="bold" text-anchor="middle" transform="translate(201.5 1043.2) scale(0.925 1)">Day</text>
<text x="0" y="0" font-size="23.5" font-weight="bold" text-anchor="middle" transform="translate(30.3 904.5) rotate(-90) scale(0.935 1)">meters</text>
<rect x="80.7" y="831.1" width="14.9" height="6.5" fill="#ffffff" stroke="#000" stroke-width="2.2"/>
<text x="101.5" y="837.7" font-size="11.5" text-anchor="start" font-weight="bold">Center</text>
<rect x="80.7" y="847.2" width="14.9" height="6.9" fill="#d9d9d9" stroke="#000" stroke-width="2.2"/>
<text x="101.5" y="854.2" font-size="11.5" text-anchor="start" font-weight="bold">Periphery</text>
<rect x="80.7" y="863.7" width="14.9" height="6.5" fill="#808080" stroke="#000" stroke-width="2.2"/>
<text x="101.5" y="870.3" font-size="11.5" text-anchor="start" font-weight="bold">Transition</text>
<line x1="422.5" y1="815.3" x2="422.5" y2="998.5" stroke="#000" stroke-width="2.2"/>
<line x1="415.5" y1="816.4" x2="422.5" y2="816.4" stroke="#000" stroke-width="2.2"/>
<text x="0" y="0" font-size="14.4" text-anchor="end" font-weight="bold" transform="translate(413.2 820) scale(0.94 1)">15</text>
<line x1="415.5" y1="876.7" x2="422.5" y2="876.7" stroke="#000" stroke-width="2.2"/>
<text x="0" y="0" font-size="14.4" text-anchor="end" font-weight="bold" transform="translate(413.2 880.3) scale(0.94 1)">10</text>
<line x1="415.5" y1="937" x2="422.5" y2="937" stroke="#000" stroke-width="2.2"/>
<text x="0" y="0" font-size="14.4" text-anchor="end" font-weight="bold" transform="translate(413.2 940.6) scale(0.94 1)">5</text>
<line x1="415.5" y1="997.4" x2="422.5" y2="997.4" stroke="#000" stroke-width="2.2"/>
<text x="0" y="0" font-size="14.4" text-anchor="end" font-weight="bold" transform="translate(413.2 1001) scale(0.94 1)">0</text>
<line x1="421.4" y1="997.4" x2="696.2" y2="997.4" stroke="#000" stroke-width="2.2"/>
<line x1="454" y1="997.4" x2="454" y2="1004.6" stroke="#000" stroke-width="2.2"/>
<text x="0" y="0" font-size="14" text-anchor="middle" font-weight="bold" transform="translate(452.9 1019.2) scale(0.96 1)">Day 1</text>
<line x1="523.5" y1="997.4" x2="523.5" y2="1004.6" stroke="#000" stroke-width="2.2"/>
<text x="0" y="0" font-size="14" text-anchor="middle" font-weight="bold" transform="translate(523.5 1019.2) scale(0.96 1)">Day 3</text>
<line x1="593.4" y1="997.4" x2="593.4" y2="1004.6" stroke="#000" stroke-width="2.2"/>
<text x="0" y="0" font-size="14" text-anchor="middle" font-weight="bold" transform="translate(593.4 1019.2) scale(0.96 1)">Day 5</text>
<line x1="662.7" y1="997.4" x2="662.7" y2="1004.6" stroke="#000" stroke-width="2.2"/>
<text x="0" y="0" font-size="14" text-anchor="middle" font-weight="bold" transform="translate(663.3 1019.2) scale(0.96 1)">Day 8</text>
<rect x="428.7" y="990.5" width="12.8" height="6.9" fill="#000"/>
<rect x="431.65" y="993.45" width="6.9" height="2.85" fill="#ffffff"/>
<line x1="435.1" y1="988.2" x2="435.1" y2="992.85" stroke="#000" stroke-width="1.8"/>
<rect x="431.77" y="987.7" width="6.66" height="2" fill="#000" rx="0.6"/>
<rect x="447.8" y="943.1" width="12.8" height="54.3" fill="#000"/>
<rect x="450.75" y="946.05" width="6.9" height="50.25" fill="#d9d9d9"/>
<line x1="454.2" y1="934.9" x2="454.2" y2="951.35" stroke="#000" stroke-width="1.8"/>
<rect x="450.87" y="934.4" width="6.66" height="2" fill="#000" rx="0.6"/>
<rect x="450.55" y="950.35" width="7.3" height="2" fill="#000"/>
<rect x="466.8" y="988.1" width="12.8" height="9.3" fill="#000"/>
<rect x="469.75" y="991.05" width="6.9" height="5.25" fill="#808080"/>
<line x1="473.2" y1="987.6" x2="473.2" y2="989.58" stroke="#000" stroke-width="1.8"/>
<rect x="469.87" y="987.1" width="6.66" height="2" fill="#000" rx="0.6"/>
<rect x="498.2" y="989.7" width="12.8" height="7.7" fill="#000"/>
<rect x="501.15" y="992.65" width="6.9" height="3.65" fill="#ffffff"/>
<line x1="504.6" y1="987.2" x2="504.6" y2="992.25" stroke="#000" stroke-width="1.8"/>
<rect x="501.27" y="986.7" width="6.66" height="2" fill="#000" rx="0.6"/>
<rect x="517.3" y="959.1" width="12.8" height="38.3" fill="#000"/>
<rect x="520.25" y="962.05" width="6.9" height="34.25" fill="#d9d9d9"/>
<line x1="523.7" y1="949.2" x2="523.7" y2="969.05" stroke="#000" stroke-width="1.8"/>
<rect x="520.37" y="948.7" width="6.66" height="2" fill="#000" rx="0.6"/>
<rect x="520.05" y="968.05" width="7.3" height="2" fill="#000"/>
<rect x="536.3" y="989.7" width="12.8" height="7.7" fill="#000"/>
<rect x="539.25" y="992.65" width="6.9" height="3.65" fill="#808080"/>
<line x1="542.7" y1="987.6" x2="542.7" y2="991.18" stroke="#000" stroke-width="1.8"/>
<rect x="539.37" y="987.1" width="6.66" height="2" fill="#000" rx="0.6"/>
<rect x="568.1" y="992.6" width="12.8" height="4.8" fill="#000"/>
<rect x="571.05" y="995.55" width="6.9" height="0.75" fill="#ffffff"/>
<line x1="574.5" y1="991.1" x2="574.5" y2="994.15" stroke="#000" stroke-width="1.8"/>
<rect x="571.17" y="990.6" width="6.66" height="2" fill="#000" rx="0.6"/>
<rect x="587.2" y="943.5" width="12.8" height="53.9" fill="#000"/>
<rect x="590.15" y="946.45" width="6.9" height="49.85" fill="#d9d9d9"/>
<line x1="593.6" y1="932.6" x2="593.6" y2="954.45" stroke="#000" stroke-width="1.8"/>
<rect x="590.27" y="932.1" width="6.66" height="2" fill="#000" rx="0.6"/>
<rect x="589.95" y="953.45" width="7.3" height="2" fill="#000"/>
<rect x="606.2" y="988.2" width="12.8" height="9.2" fill="#000"/>
<rect x="609.15" y="991.15" width="6.9" height="5.15" fill="#808080"/>
<line x1="612.6" y1="986.1" x2="612.6" y2="989.68" stroke="#000" stroke-width="1.8"/>
<rect x="609.27" y="985.6" width="6.66" height="2" fill="#000" rx="0.6"/>
<rect x="637.4" y="982.2" width="12.8" height="15.2" fill="#000"/>
<rect x="640.35" y="985.15" width="6.9" height="11.15" fill="#ffffff"/>
<line x1="643.8" y1="979.3" x2="643.8" y2="985.15" stroke="#000" stroke-width="1.8"/>
<rect x="640.47" y="978.8" width="6.66" height="2" fill="#000" rx="0.6"/>
<rect x="656.5" y="874.4" width="12.8" height="123" fill="#000"/>
<rect x="659.45" y="877.35" width="6.9" height="118.95" fill="#d9d9d9"/>
<line x1="662.9" y1="857.9" x2="662.9" y2="890.95" stroke="#000" stroke-width="1.8"/>
<rect x="659.57" y="857.4" width="6.66" height="2" fill="#000" rx="0.6"/>
<rect x="659.25" y="889.95" width="7.3" height="2" fill="#000"/>
<rect x="675.5" y="970.6" width="12.8" height="26.8" fill="#000"/>
<rect x="678.45" y="973.55" width="6.9" height="22.75" fill="#808080"/>
<line x1="681.9" y1="967.1" x2="681.9" y2="972.08" stroke="#000" stroke-width="1.8"/>
<rect x="678.57" y="966.6" width="6.66" height="2" fill="#000" rx="0.6"/>
<text x="550.7" y="814.5" font-size="17.1" text-anchor="middle" font-weight="bold">Distance (EtOH)</text>
<text x="0" y="0" font-size="23.8" font-weight="bold" text-anchor="middle" transform="translate(558.9 1043.2) scale(0.925 1)">Day</text>
<rect x="441.2" y="831.1" width="15.3" height="6.5" fill="#ffffff" stroke="#000" stroke-width="2.2"/>
<text x="462.4" y="837.7" font-size="11.5" text-anchor="start" font-weight="bold">Center</text>
<rect x="441.2" y="847.2" width="15.3" height="6.9" fill="#d9d9d9" stroke="#000" stroke-width="2.2"/>
<text x="462.4" y="854.2" font-size="11.5" text-anchor="start" font-weight="bold">Periphery</text>
<rect x="441.2" y="863.7" width="15.3" height="6.5" fill="#808080" stroke="#000" stroke-width="2.2"/>
<text x="462.4" y="870.3" font-size="11.5" text-anchor="start" font-weight="bold">Transition</text>
<text x="0" y="0" font-size="14.5" text-anchor="middle" font-weight="bold" font-family='"Liberation Serif", serif' transform="translate(644.6 974.8) scale(0.82 1)">&amp;</text>
<text x="0" y="0" font-size="16.5" text-anchor="middle" font-weight="bold" font-family='"Liberation Serif", serif' transform="translate(663.65 854.3) scale(1 1)">#</text>
<text x="0" y="0" font-size="16.5" text-anchor="middle" font-weight="bold" font-family='"Liberation Serif", serif' transform="translate(682.2 962.9) scale(1 1)">#</text>
</svg>
</body></html>
